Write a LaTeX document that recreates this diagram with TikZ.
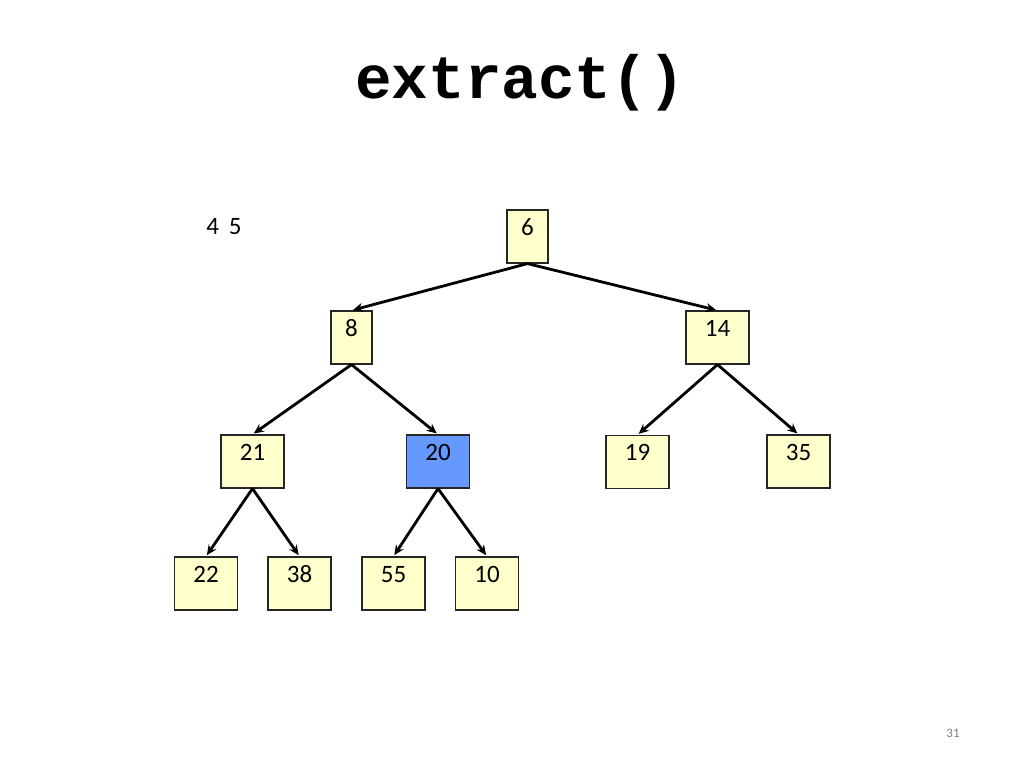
\documentclass[tikz,border=0pt]{standalone}
\usepackage{fontspec}
\setmainfont{Carlito}
\newfontfamily\codefont{Liberation Mono}
\usetikzlibrary{arrows.meta}

\definecolor{heapyellow}{RGB}{255,255,204}
\definecolor{heapblue}{RGB}{102,153,255}

\tikzset{
  heapbox/.style={draw=black!85, line width=1.2pt, fill=heapyellow, rectangle,
    inner sep=0pt, minimum width=63pt, text height=25pt, text depth=28pt,
    font=\fontsize{25}{25}\selectfont},
  heapedge/.style={line width=2.8pt, -{Stealth[length=10pt,width=9pt]}, shorten >=1.5pt}
}

\begin{document}
\begin{tikzpicture}[x=1pt,y=-1pt]
      \useasboundingbox[fill=white] (0,0) rectangle (1024,768);

      \node (title) at (520,83) {\codefont\bfseries\fontsize{61}{61}\selectfont extract()};
      \node (rest) at (224,227) {\fontsize{25}{25}\selectfont 4\, 5};
      \node[text=black!50] (page) at (953,733) {\fontsize{13}{13}\selectfont 31};

      \node[heapbox, minimum width=41pt] (6) at (527.5,236.5) {6};
      \node[heapbox, minimum width=41pt] (8) at (351.5,337.5) {8};
      \node[heapbox] (14) at (717.5,337.5) {14};
      \node[heapbox] (21) at (252.5,461.5) {21};
      \node[heapbox, fill=heapblue] (20) at (438,461.5) {20};
      \node[heapbox] (19) at (637.5,462) {19};
      \node[heapbox] (35) at (798.5,461.5) {35};
      \node[heapbox] (22) at (206,583.5) {22};
      \node[heapbox] (38) at (299.5,583.5) {38};
      \node[heapbox] (55) at (393.5,583.5) {55};
      \node[heapbox] (10) at (487,583.5) {10};

      \foreach \parent/\kid in {6/8, 6/14, 8/21, 8/20, 14/19, 14/35, 21/22, 21/38, 20/55, 20/10}{
        \draw[heapedge] (\parent.south) -- (\kid.north); }
\end{tikzpicture}
\end{document}
